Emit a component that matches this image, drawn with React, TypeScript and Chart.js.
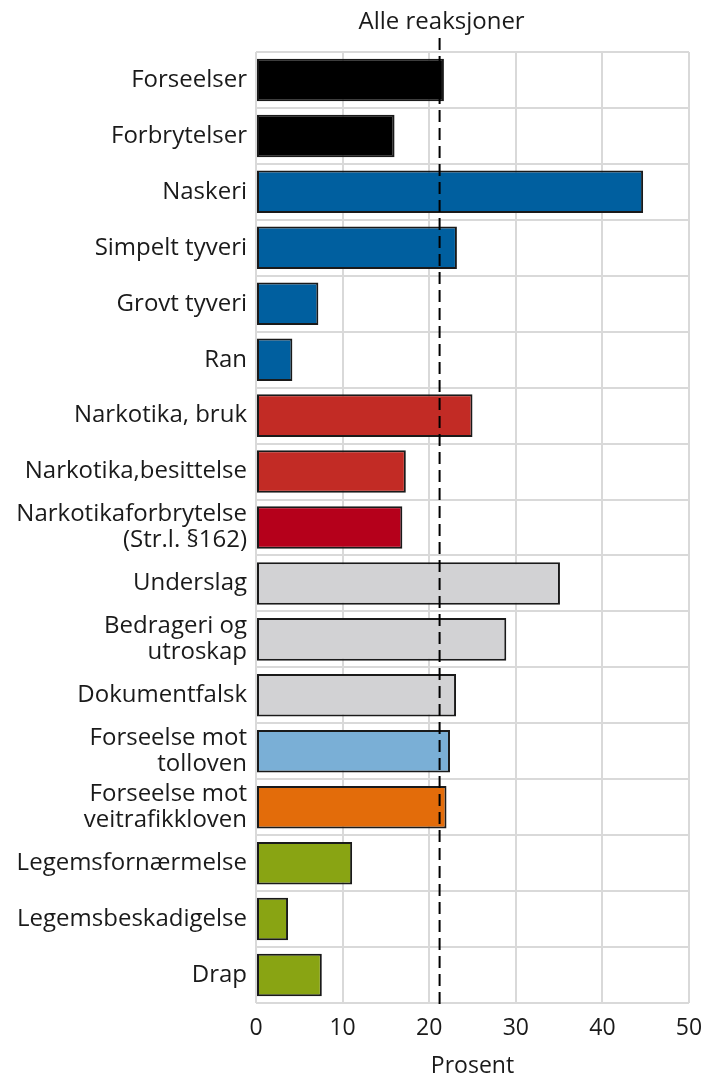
import React, { useEffect, useRef } from "react";
import { Chart, registerables } from "chart.js";

Chart.register(...registerables);

const categories: (string | string[])[] = [
  "Forseelser",
  "Forbrytelser",
  "Naskeri",
  "Simpelt tyveri",
  "Grovt tyveri",
  "Ran",
  "Narkotika, bruk",
  "Narkotika,besittelse",
  ["Narkotikaforbrytelse", "(Str.l. §162)"],
  "Underslag",
  ["Bedrageri og", "utroskap"],
  "Dokumentfalsk",
  ["Forseelse mot", "tolloven"],
  ["Forseelse mot", "veitrafikkloven"],
  "Legemsfornærmelse",
  "Legemsbeskadigelse",
  "Drap",
];

const values: number[] = [21.7, 16.0, 44.7, 23.2, 7.2, 4.2, 25.0, 17.3, 16.9, 35.1, 28.9, 23.1, 22.4, 22.0, 11.1, 3.7, 7.6];

const barColors: string[] = [
  "#000000",
  "#000000",
  "#005f9f",
  "#005f9f",
  "#005f9f",
  "#005f9f",
  "#c22b25",
  "#c22b25",
  "#b5001b",
  "#d2d2d4",
  "#d2d2d4",
  "#d2d2d4",
  "#7aafd6",
  "#e36c0a",
  "#89a413",
  "#89a413",
  "#89a413",
];

const allReactions = 21.2;
const allReactionsLabel = "Alle reaksjoner";
const xTicks: number[] = [0, 10, 20, 30, 40, 50];
const xTitle = "Prosent";

const FONT = "'Open Sans', sans-serif";

export default function App() {
  const ref = useRef<HTMLCanvasElement | null>(null);

  useEffect(() => {
    if (!ref.current) return;
    const refLine = {
      id: "refLine",
      afterDatasetsDraw(chart: any) {
        const ctx = chart.ctx;
        const x = chart.scales.x.getPixelForValue(allReactions);
        const area = chart.chartArea;
        ctx.save();
        ctx.strokeStyle = "#000";
        ctx.lineWidth = 2;
        ctx.setLineDash([12, 6]);
        ctx.beginPath();
        ctx.moveTo(x, 38);
        ctx.lineTo(x, area.bottom + 6);
        ctx.stroke();
        ctx.setLineDash([]);
        ctx.fillStyle = "#1a1a1a";
        ctx.font = "24px " + FONT;
        ctx.textAlign = "center";
        ctx.textBaseline = "middle";
        ctx.fillText(allReactionsLabel, x + 2, 22);
        ctx.restore();
      },
    };

    const chart = new Chart(ref.current, {
      type: "bar",
      data: {
        labels: categories,
        datasets: [
          {
            data: values,
            backgroundColor: barColors,
            borderColor: "#1a1a1a",
            borderWidth: 2,
            borderSkipped: false,
            barPercentage: 0.76,
            categoryPercentage: 1,
          },
        ],
      },
      options: {
        indexAxis: "y",
        responsive: false,
        animation: false,
        layout: { padding: { top: 52, right: 16, bottom: 0, left: 0 } },
        plugins: {
          legend: { display: false },
          tooltip: { enabled: false },
        },
        scales: {
          x: {
            min: 0,
            max: 50,
            afterFit: (s: any) => {
              s.height = 77;
              s.paddingLeft = 0;
              s.paddingRight = 0;
            },
            afterBuildTicks: (s: any) => {
              s.ticks = xTicks.map((v) => ({ value: v }));
            },
            grid: { color: "#d9d9d9", lineWidth: 2, drawTicks: false },
            border: { display: false },
            ticks: {
              padding: 12,
              color: "#1a1a1a",
              font: { family: FONT, size: 23 },
            },
            title: {
              display: true,
              text: xTitle,
              color: "#1a1a1a",
              font: { family: FONT, size: 23 },
              padding: { top: 3, bottom: 0 },
            },
          },
          y: {
            afterFit: (s: any) => {
              s.width = 256;
              s.paddingTop = 0;
              s.paddingBottom = 0;
            },
            grid: { color: "#d9d9d9", lineWidth: 2, offset: true, drawTicks: false },
            border: { display: false },
            ticks: {
              padding: 9,
              color: "#1a1a1a",
              font: { family: FONT, size: 24, lineHeight: 1.08 },
            },
          },
        },
      },
      plugins: [refLine],
    });
    return () => chart.destroy();
  }, []);

  return (
    <div style={{ position: "absolute", left: 0, top: 0, width: 705, height: 1080, background: "#fff" }}>
      <canvas ref={ref} width={705} height={1080} style={{ display: "block" }} />
    </div>
  );
}
